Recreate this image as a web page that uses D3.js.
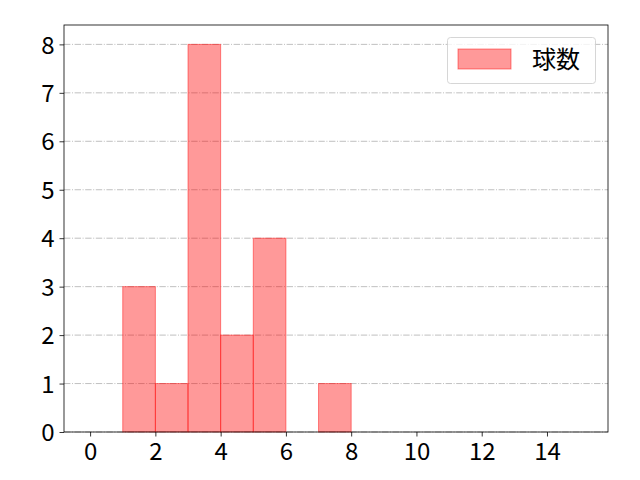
<!DOCTYPE html>
<html><head><meta charset="utf-8">
<script src="https://cdn.jsdelivr.net/npm/d3@7"></script>
<style>body{margin:0;background:#fff}svg{display:block}</style>
</head><body>
<svg id="c" width="640" height="480"></svg>
<script>
const binStarts = [1,2,3,4,5,6,7];
const counts = [3,1,8,2,4,0,1];
const xTicks = [0,2,4,6,8,10,12,14];
const yTicks = [0,1,2,3,4,5,6,7,8];
const seriesName = "球数";

const font = "'Noto Sans CJK JP', 'Noto Sans', sans-serif";
const svg = d3.select("#c");
const L=64, R=608, T=25, B=432;
const x = d3.scaleLinear().domain([-0.8, 15.87]).range([L, R]);
const y = d3.scaleLinear().domain([0, 8.4]).range([B, T]);

// grid
svg.append("g").selectAll("line").data(yTicks).join("line")
  .attr("x1", L).attr("x2", R)
  .attr("y1", d=>y(d)).attr("y2", d=>y(d))
  .attr("stroke", "#b0b0b0").attr("stroke-width", 0.8)
  .attr("stroke-dasharray", "6.4,1.6,1,1.6");

// bars
svg.append("g").selectAll("rect").data(binStarts.map((s,i)=>({s, c:counts[i]})).filter(d=>d.c>0)).join("rect")
  .attr("x", d=>x(d.s)).attr("width", d=>x(d.s+1)-x(d.s))
  .attr("y", d=>y(d.c)).attr("height", d=>y(0)-y(d.c))
  .attr("fill", "rgba(255,0,0,0.4)")
  .attr("stroke", "rgba(255,0,0,0.45)").attr("stroke-width", 1);

// axes
const xa = svg.append("g").attr("transform", `translate(0,${B})`)
  .call(d3.axisBottom(x).tickValues(xTicks).tickSize(4.5).tickPadding(3).tickSizeOuter(0));
const ya = svg.append("g").attr("transform", `translate(${L},0)`)
  .call(d3.axisLeft(y).tickValues(yTicks).tickSize(4.5).tickPadding(5).tickSizeOuter(0));
[xa, ya].forEach(a=>{
  a.attr("font-size", null).attr("font-family", null);
  a.select(".domain").remove();
  a.selectAll(".tick line").attr("stroke", "#000").attr("stroke-width", 0.8);
  a.selectAll("text").style("font-family", font).style("font-size", "24px").attr("fill", "#000");
});
xa.selectAll("text").attr("dy", "0.85em");
ya.selectAll("text").attr("dy", "0.36em");

// frame
svg.append("rect").attr("x", L).attr("y", T).attr("width", R-L).attr("height", B-T)
  .attr("fill", "none").attr("stroke", "#000").attr("stroke-width", 0.8);

// legend
const lg = svg.append("g");
lg.append("rect").attr("x", 447.5).attr("y", 37.5).attr("width", 148).attr("height", 46)
  .attr("rx", 3).attr("fill", "rgba(255,255,255,0.8)").attr("stroke", "#cccccc").attr("stroke-width", 0.8);
lg.append("rect").attr("x", 458).attr("y", 49).attr("width", 53).attr("height", 20)
  .attr("fill", "rgba(255,0,0,0.4)").attr("stroke", "rgba(255,0,0,0.45)");
lg.append("text").attr("x", 532).attr("y", 68).text(seriesName)
  .style("font-family", font).style("font-size", "24px").attr("fill", "#000");
</script>
</body></html>
